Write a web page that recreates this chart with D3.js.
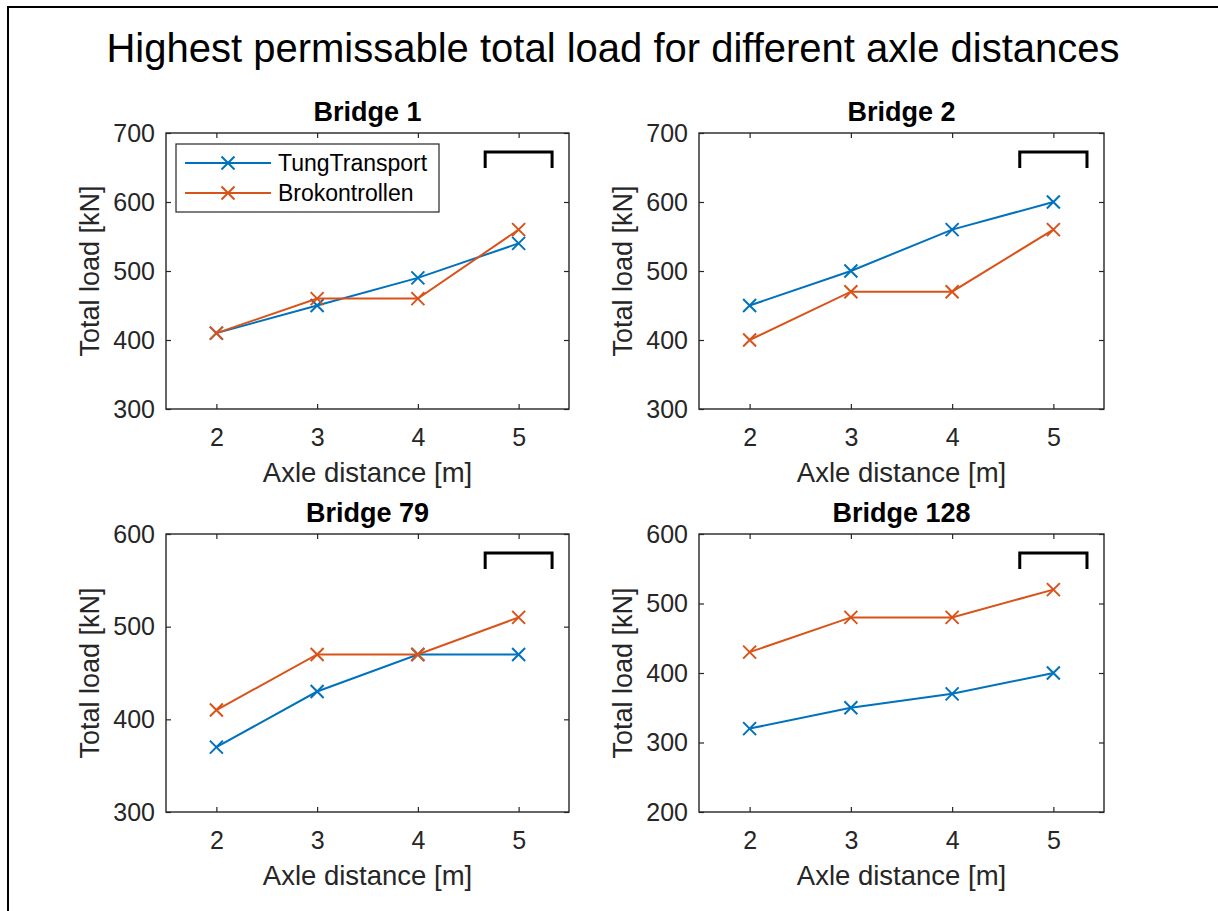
<!DOCTYPE html>
<html>
<head>
<meta charset="utf-8">
<script src="https://cdn.jsdelivr.net/npm/d3@7"></script>
<style>
  html, body { margin: 0; padding: 0; background: #fff; }
  svg { display: block; font-family: "Liberation Sans", Arial, Helvetica, sans-serif; }
</style>
</head>
<body>
<svg id="chart" width="1218" height="911"></svg>
<script>
// ---- data ----
const suptitle = "Highest permissable total load for different axle distances";
const axleDistances = [2, 3, 4, 5];
const xTicks = [2, 3, 4, 5];
const seriesNames = ["TungTransport", "Brokontrollen"];
const seriesColors = ["#0072BD", "#D95319"];

const bridgeTitles = ["Bridge 1", "Bridge 2", "Bridge 79", "Bridge 128"];
const tungTransport = [
  [410, 450, 490, 540],
  [450, 500, 560, 600],
  [370, 430, 470, 470],
  [320, 350, 370, 400]
];
const brokontrollen = [
  [410, 460, 460, 560],
  [400, 470, 470, 560],
  [410, 470, 470, 510],
  [430, 480, 480, 520]
];
const yDomains = [[300, 700], [300, 700], [300, 600], [200, 600]];
const yTicks = [
  [300, 400, 500, 600, 700],
  [300, 400, 500, 600, 700],
  [300, 400, 500, 600],
  [200, 300, 400, 500, 600]
];
const xLabel = "Axle distance [m]";
const yLabel = "Total load [kN]";

// ---- layout ----
const svg = d3.select("#chart");
const axColor = "#262626";
const panels = [
  { left: 166, right: 569, top: 133, bottom: 409 },
  { left: 699, right: 1104, top: 133, bottom: 409 },
  { left: 166, right: 569, top: 534, bottom: 812 },
  { left: 699, right: 1104, top: 534, bottom: 812 }
];

// figure border (partially cropped)
svg.append("path")
  .attr("d", "M8,911 L8,7 L1218,7")
  .attr("fill", "none").attr("stroke", "#000").attr("stroke-width", 2);

svg.append("text")
  .attr("x", 613).attr("y", 62)
  .attr("text-anchor", "middle")
  .attr("font-size", 40).attr("fill", "#000")
  .text(suptitle);

panels.forEach((p, i) => {
  const w = p.right - p.left, h = p.bottom - p.top;
  const g = svg.append("g").attr("transform", `translate(${p.left},${p.top})`);
  const x = d3.scaleLinear().domain([1.5, 5.5]).range([0, w]);
  const y = d3.scaleLinear().domain(yDomains[i]).range([h, 0]);

  // axes
  const styleAxis = sel => {
    sel.select(".domain").remove();
    sel.selectAll(".tick line").attr("stroke", axColor).attr("stroke-width", 1.2);
    sel.selectAll(".tick text").attr("fill", axColor).attr("font-size", 25)
      .attr("font-family", "Liberation Sans, Arial, sans-serif");
  };
  g.append("g").attr("transform", `translate(0,${h})`)
    .call(d3.axisBottom(x).tickValues(xTicks).tickFormat(d3.format("d")).tickSize(-5).tickPadding(19))
    .call(styleAxis);
  g.append("g")
    .call(d3.axisTop(x).tickValues(xTicks).tickFormat("").tickSize(-5))
    .call(styleAxis);
  g.append("g")
    .call(d3.axisLeft(y).tickValues(yTicks[i]).tickFormat(d3.format("d")).tickSize(-5).tickPadding(11))
    .call(styleAxis);
  g.append("g").attr("transform", `translate(${w},0)`)
    .call(d3.axisRight(y).tickValues(yTicks[i]).tickFormat("").tickSize(-5))
    .call(styleAxis);
  g.selectAll(".tick text").each(function () {
    const t = d3.select(this);
    if (t.text() === "") t.remove();
  });

  g.append("rect").attr("x", 0).attr("y", 0).attr("width", w).attr("height", h)
    .attr("fill", "none").attr("stroke", axColor).attr("stroke-width", 1.4);

  // series
  const allSeries = [tungTransport[i], brokontrollen[i]];
  allSeries.forEach((vals, s) => {
    const pts = axleDistances.map((d, k) => [x(d), y(vals[k])]);
    g.append("path")
      .attr("d", d3.line()(pts))
      .attr("fill", "none").attr("stroke", seriesColors[s]).attr("stroke-width", 2);
    const r = 6.5;
    g.selectAll(null).data(pts).enter().append("path")
      .attr("d", d => `M${d[0]-r},${d[1]-r}L${d[0]+r},${d[1]+r}M${d[0]-r},${d[1]+r}L${d[0]+r},${d[1]-r}`)
      .attr("fill", "none").attr("stroke", seriesColors[s]).attr("stroke-width", 2);
  });

  // title
  g.append("text").attr("x", w / 2).attr("y", -12)
    .attr("text-anchor", "middle").attr("font-size", 27).attr("font-weight", "bold")
    .attr("fill", "#000").text(bridgeTitles[i]);
  // x label
  g.append("text").attr("x", w / 2).attr("y", h + 73)
    .attr("text-anchor", "middle").attr("font-size", 27.5).attr("fill", axColor).text(xLabel);
  // y label
  g.append("text").attr("transform", `translate(-67,${h / 2}) rotate(-90)`)
    .attr("text-anchor", "middle").attr("font-size", 27).attr("fill", axColor).text(yLabel);

  // empty legend artifact (bracket)
  const bx0 = w * 0.792, bx1 = w * 0.958, by0 = 19, by1 = 35;
  g.append("path")
    .attr("d", `M${bx0},${by1}L${bx0},${by0}L${bx1},${by0}L${bx1},${by1}`)
    .attr("fill", "none").attr("stroke", "#000").attr("stroke-width", 3);

  // legend only on first panel
  if (i === 0) {
    const lg = g.append("g").attr("transform", "translate(10,11)");
    lg.append("rect").attr("x", 0).attr("y", 0).attr("width", 263).attr("height", 68)
      .attr("fill", "#fff").attr("stroke", axColor).attr("stroke-width", 1.2);
    seriesNames.forEach((name, s) => {
      const cy = 19 + s * 30;
      lg.append("line").attr("x1", 9).attr("x2", 95).attr("y1", cy).attr("y2", cy)
        .attr("stroke", seriesColors[s]).attr("stroke-width", 2);
      const mx = 52, r = 6.5;
      lg.append("path")
        .attr("d", `M${mx-r},${cy-r}L${mx+r},${cy+r}M${mx-r},${cy+r}L${mx+r},${cy-r}`)
        .attr("stroke", seriesColors[s]).attr("stroke-width", 2);
      lg.append("text").attr("x", 102).attr("y", cy).attr("dy", "0.35em")
        .attr("font-size", 23).attr("fill", "#000").text(name);
    });
  }
});
</script>
</body>
</html>
